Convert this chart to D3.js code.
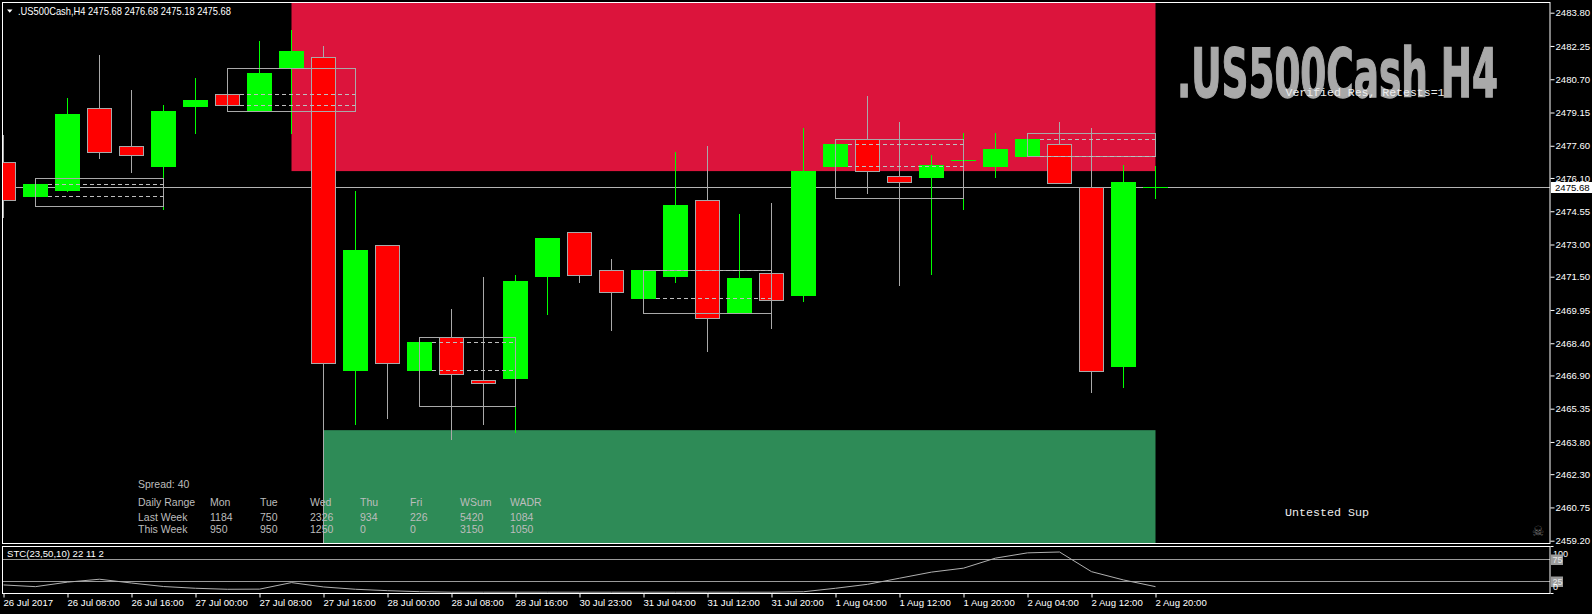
<!DOCTYPE html>
<html><head><meta charset="utf-8">
<script src="https://cdn.jsdelivr.net/npm/d3@7/dist/d3.min.js"></script>
<style>
html,body{margin:0;padding:0;background:#000;overflow:hidden}
svg{display:block}
text{font-family:"Liberation Sans",Arial,sans-serif}
</style></head><body>
<svg id="c" width="1592" height="614"></svg>
<script>
// ---------------- DATA ----------------
const symbolName = ".US500Cash,H4";
const headerQuote = [2475.68, 2476.68, 2475.18, 2475.68];
const barTimes = [
 "26 Jul 00:00","26 Jul 04:00","26 Jul 08:00","26 Jul 12:00","26 Jul 16:00","26 Jul 20:00",
 "27 Jul 00:00","27 Jul 04:00","27 Jul 08:00","27 Jul 12:00","27 Jul 16:00","27 Jul 20:00",
 "28 Jul 00:00","28 Jul 04:00","28 Jul 08:00","28 Jul 12:00","28 Jul 16:00","28 Jul 20:00",
 "30 Jul 23:00","31 Jul 00:00","31 Jul 04:00","31 Jul 08:00","31 Jul 12:00","31 Jul 16:00","31 Jul 20:00",
 "1 Aug 00:00","1 Aug 04:00","1 Aug 08:00","1 Aug 12:00","1 Aug 16:00","1 Aug 20:00",
 "2 Aug 00:00","2 Aug 04:00","2 Aug 08:00","2 Aug 12:00","2 Aug 16:00","2 Aug 20:00"];
const opens  = [2476.83,2475.27,2475.54,2479.35,2477.57,2476.67,2479.47,2480.00,2479.22,2481.22,2481.72,2467.16,
 2472.96,2467.16,2468.67,2466.67,2466.79,2471.54,2473.57,2471.80,2470.52,2471.54,2475.06,2469.79,2471.66,
 2470.65,2476.67,2477.90,2476.18,2476.14,2476.92,2476.67,2477.14,2477.67,2475.66,2467.35,2475.68];
const highs  = [2478.10,2476.08,2479.83,2481.83,2480.20,2479.50,2480.76,2481.21,2482.48,2482.99,2482.25,2475.49,
 2472.96,2468.67,2469.99,2471.48,2471.58,2473.30,2473.57,2472.32,2471.80,2477.31,2477.59,2474.42,2474.93,
 2478.43,2477.90,2479.92,2478.71,2477.17,2478.19,2478.19,2478.18,2478.71,2478.43,2476.70,2476.68];
const lows   = [2474.29,2474.81,2475.50,2477.04,2476.39,2474.67,2478.21,2479.20,2479.22,2478.21,2458.80,2464.65,
 2464.93,2465.46,2463.92,2464.65,2464.28,2469.77,2471.27,2469.01,2469.79,2471.27,2468.04,2469.79,2469.12,
 2470.38,2475.15,2475.41,2471.11,2471.62,2474.65,2476.16,2477.14,2475.88,2466.14,2466.37,2475.18];
const closes = [2475.06,2475.82,2479.08,2477.29,2477.16,2479.22,2479.73,2479.49,2480.99,2482.02,2467.46,2472.74,
 2467.46,2468.46,2466.95,2466.53,2471.30,2473.30,2471.56,2470.80,2471.80,2474.84,2469.56,2471.44,2470.40,
 2476.42,2477.68,2476.41,2475.90,2476.69,2476.92,2477.45,2477.91,2475.88,2467.12,2475.91,2475.68];
const currentPrice = 2475.68;

const priceTicks = [2483.80,2482.25,2480.70,2479.15,2477.60,2476.10,2474.55,2473.00,2471.50,2469.95,
 2468.40,2466.90,2465.35,2463.80,2462.30,2460.75,2459.20];
const tickBars = ["26 Jul 00:00","26 Jul 08:00","26 Jul 16:00","27 Jul 00:00","27 Jul 08:00","27 Jul 16:00",
 "28 Jul 00:00","28 Jul 08:00","28 Jul 16:00","30 Jul 23:00","31 Jul 04:00","31 Jul 12:00","31 Jul 20:00",
 "1 Aug 04:00","1 Aug 12:00","1 Aug 20:00","2 Aug 04:00","2 Aug 12:00","2 Aug 20:00"];
const tickLabels = ["26 Jul 2017","26 Jul 08:00","26 Jul 16:00","27 Jul 00:00","27 Jul 08:00","27 Jul 16:00",
 "28 Jul 00:00","28 Jul 08:00","28 Jul 16:00","30 Jul 23:00","31 Jul 04:00","31 Jul 12:00","31 Jul 20:00",
 "1 Aug 04:00","1 Aug 12:00","1 Aug 20:00","2 Aug 04:00","2 Aug 12:00","2 Aug 20:00"];

// supply / demand zones
const resZoneBars = ["27 Jul 12:00","2 Aug 20:00"];
const resZonePrices = [2476.42, 2486.00];
const supZoneBars = ["27 Jul 16:00","2 Aug 20:00"];
const supZonePrices = [2457.50, 2464.35];
const resZoneLabel = "Verified Res, Retests=1";
const supZoneLabel = "Untested Sup";

// range boxes (start bar -> end bar)
const boxStartBars = ["26 Jul 04:00","27 Jul 04:00","28 Jul 04:00","31 Jul 04:00","1 Aug 04:00","2 Aug 04:00"];
const boxEndBars   = ["26 Jul 20:00","27 Jul 20:00","28 Jul 16:00","31 Jul 20:00","1 Aug 20:00","2 Aug 20:00"];

// STC indicator
const stcLabel = "STC(23,50,10) 22 11 2";
const stcLevels = [75, 25];
const stcValues = [16.6,12.7,23,29.7,21,13,9,6.7,7,22,12,6.7,3.5,1.2,0,0,0,0,0,0,0,0,0,0,0,
 1,9,18,32,46,55,78,90,92,47,28,12.7];

// daily range table
const spreadText = "Spread: 40";
const tableHeader = ["Daily Range","Mon","Tue","Wed","Thu","Fri","WSum","WADR"];
const lastWeekRow = ["Last Week","1184","750","2326","934","226","5420","1084"];
const thisWeekRow = ["This Week","950","950","1250","0","0","3150","1050"];
const titleText = ".US500Cash H4";

// ---------------- DRAW ----------------
const svg = d3.select("#c");
const W = 1592, H = 614;
const L = 3, R = 1550, T = 3, B = 543.5;
const IT = 546.5, IB = 593.5;

svg.append("rect").attr("width", W).attr("height", H).attr("fill", "#000");

const x = d3.scalePoint().domain(barTimes).range([3.5, 1155.5]);
const y = d3.scaleLinear().domain([2459.20, 2483.80]).range([540.7, 12.7]);
const yi = d3.scaleLinear().domain([0, 100]).range([592.2, 548.5]);

const defs = svg.append("defs");
defs.append("clipPath").attr("id", "mainclip").append("rect")
  .attr("x", L).attr("y", T).attr("width", R - L).attr("height", B - T);
defs.append("clipPath").attr("id", "indclip").append("rect")
  .attr("x", L).attr("y", IT).attr("width", R - L).attr("height", IB - IT);

const main = svg.append("g").attr("clip-path", "url(#mainclip)");

// zones
main.append("rect")
  .attr("x", x(resZoneBars[0])).attr("width", x(resZoneBars[1]) - x(resZoneBars[0]))
  .attr("y", y(resZonePrices[1])).attr("height", y(resZonePrices[0]) - y(resZonePrices[1]))
  .attr("fill", "#DC143C");
main.append("rect")
  .attr("x", x(supZoneBars[0])).attr("width", x(supZoneBars[1]) - x(supZoneBars[0]))
  .attr("y", y(supZonePrices[1])).attr("height", y(supZonePrices[0]) - y(supZonePrices[1]))
  .attr("fill", "#2E8B57");

// current price line
const cpY = Math.round(y(currentPrice)) + 0.5;
main.append("line").attr("x1", L).attr("x2", R).attr("y1", cpY).attr("y2", cpY)
  .attr("stroke", "#B4B4B4").attr("stroke-width", 1);

// candles
const bars = barTimes.map((t, i) => ({t, o: opens[i], h: highs[i], l: lows[i], c: closes[i]}));
const cg = main.append("g");
const half = 12.5;
bars.forEach(d => {
  const cx = x(d.t);
  const bull = d.c >= d.o;
  const col = bull ? "#00FF00" : "#A9A9A9";
  cg.append("line").attr("x1", cx).attr("x2", cx)
    .attr("y1", Math.round(y(d.h))).attr("y2", Math.round(y(d.l)) + 1)
    .attr("stroke", col).attr("stroke-width", 1);
  const yt = Math.round(y(Math.max(d.o, d.c)));
  const yb = Math.round(y(Math.min(d.o, d.c)));
  if (bull) {
    cg.append("rect").attr("x", cx - half).attr("y", yt)
      .attr("width", 2 * half).attr("height", Math.max(1, yb - yt + 1)).attr("fill", "#00FF00");
  } else {
    cg.append("rect").attr("x", cx - half + 0.5).attr("y", yt + 0.5)
      .attr("width", 2 * half - 1).attr("height", Math.max(1, yb - yt))
      .attr("fill", "#FF0000").attr("stroke", "#A9A9A9").attr("stroke-width", 1);
  }
});

// range boxes
const bg = main.append("g");
boxStartBars.forEach((s, k) => {
  const i = barTimes.indexOf(s);
  const d = bars[i];
  const x0 = x(s), x1 = x(boxEndBars[k]);
  const yh = Math.round(y(d.h)) + 0.5, yl = Math.round(y(d.l)) + 0.5;
  bg.append("rect").attr("x", x0).attr("y", yh).attr("width", x1 - x0).attr("height", yl - yh)
    .attr("fill", "none").attr("stroke", "#A9A9A9").attr("stroke-width", 1);
  [d.o, d.c].forEach(p => {
    const yy = Math.round(y(p)) + 0.5;
    bg.append("line").attr("x1", x0 + half).attr("x2", x1).attr("y1", yy).attr("y2", yy)
      .attr("stroke", "#BEBEBE").attr("stroke-width", 1).attr("stroke-dasharray", "4,3");
  });
});

// main frame
svg.append("rect").attr("x", 2.5).attr("y", 2.5).attr("width", R - 2.5).attr("height", B - 2.5)
  .attr("fill", "none").attr("stroke", "#fff").attr("stroke-width", 1);

// header
svg.append("path").attr("d", "M7,9.5 L12.5,9.5 L9.75,12.8 Z").attr("fill", "#fff");
svg.append("text").attr("x", 18).attr("y", 15).attr("fill", "#fff")
  .style("font-size", "10.5px")
  .attr("textLength", 213).attr("lengthAdjust", "spacingAndGlyphs")
  .text(symbolName + "  " + headerQuote.map(v => v.toFixed(2)).join(" "));

// big title (scaled horizontally to the reference width)
const title = svg.append("text").attr("x", 0).attr("y", 0).attr("fill", "#A9A9A9")
  .attr("stroke", "#A9A9A9").attr("stroke-width", 1.4)
  .style("font-family", "'DejaVu Sans',sans-serif").style("font-stretch", "condensed")
  .style("font-weight", "bold").style("font-size", "68px")
  .text(titleText);
const tl = title.node().getComputedTextLength();
title.attr("transform", `translate(1177,97) scale(${321 / tl},1)`);

// zone labels
svg.append("text").attr("x", 1285.5).attr("y", 95.5).attr("fill", "#EDEDED")
  .style("font-family", "'Liberation Mono','Courier New',monospace").style("font-size", "11.5px")
  .attr("textLength", 159).attr("lengthAdjust", "spacingAndGlyphs")
  .text(resZoneLabel);
svg.append("text").attr("x", 1285).attr("y", 515.5).attr("fill", "#EDEDED")
  .style("font-family", "'Liberation Mono','Courier New',monospace").style("font-size", "11.5px")
  .attr("textLength", 84).attr("lengthAdjust", "spacingAndGlyphs")
  .text(supZoneLabel);

// skull
svg.append("text").attr("x", 1538).attr("y", 536).attr("text-anchor", "middle")
  .attr("fill", "#6E6E6E").style("font-family", "'DejaVu Sans',sans-serif").style("font-size", "14px")
  .text("\u2620");

// table
const tbl = svg.append("g").style("font-family", "'Open Sans',sans-serif").style("font-size", "10.5px")
  .attr("fill", "#BDBDBD");
const colX = [138, 210, 260, 310, 360, 410, 460, 510];
tbl.append("text").attr("x", 138).attr("y", 488).text(spreadText);
[[tableHeader, 506], [lastWeekRow, 521], [thisWeekRow, 533]].forEach(([row, yy]) => {
  row.forEach((s, j) => tbl.append("text").attr("x", colX[j]).attr("y", yy).text(s));
});

// price axis
const yAxis = d3.axisRight(y).tickValues(priceTicks).tickFormat(d3.format(".2f"))
  .tickSize(4).tickPadding(1);
const ya = svg.append("g").attr("transform", `translate(${R + 0.5},0)`).call(yAxis);
ya.select(".domain").remove();
ya.selectAll("line").attr("stroke", "#fff");
ya.selectAll("text").attr("fill", "#fff").style("font-size", "9.6px")
  .style("font-family", "'Liberation Sans',Arial,sans-serif");

// current price label
svg.append("rect").attr("x", 1551).attr("y", cpY - 5.5).attr("width", 41).attr("height", 11).attr("fill", "#fff");
svg.append("text").attr("x", 1555).attr("y", cpY + 3.5).attr("fill", "#000").style("font-size", "9.6px")
  .text(currentPrice.toFixed(2));

// ---- indicator panel ----
const ind = svg.append("g").attr("clip-path", "url(#indclip)");
stcLevels.forEach(v => {
  const yy = Math.round(yi(v)) + 0.5;
  ind.append("line").attr("x1", L).attr("x2", R).attr("y1", yy).attr("y2", yy)
    .attr("stroke", "#9A9A9A").attr("stroke-width", 1);
});
ind.append("path")
  .datum(stcValues.map((v, i) => [x(barTimes[i]), yi(v)]))
  .attr("d", d3.line())
  .attr("fill", "none").attr("stroke", "#B0B0B0").attr("stroke-width", 1);
svg.append("text").attr("x", 7).attr("y", 557).attr("fill", "#fff").style("font-size", "9.6px").text(stcLabel);

svg.append("rect").attr("x", 2.5).attr("y", IT).attr("width", R - 2.5).attr("height", IB - IT)
  .attr("fill", "none").attr("stroke", "#fff").attr("stroke-width", 1);

// indicator scale labels
const indAxis = svg.append("g").style("font-size", "9px");
indAxis.append("text").attr("x", 1553).attr("y", 556.5).attr("fill", "#fff").text("100");
[[75, 554.5], [25, 576.5]].forEach(([v, yy]) => {
  indAxis.append("rect").attr("x", 1551).attr("y", yy).attr("width", 12).attr("height", 10.5).attr("fill", "#9B9B9B");
  indAxis.append("text").attr("x", 1552.5).attr("y", yy + 8.5).attr("fill", "#E8E8E8").text(v);
});
indAxis.append("text").attr("x", 1553).attr("y", 590).attr("fill", "#fff").text("0");
[IT, IB].forEach(yy => svg.append("line").attr("x1", R + 0.5).attr("x2", R + 3.5)
  .attr("y1", yy).attr("y2", yy).attr("stroke", "#fff"));

// time axis
const xAxis = d3.axisBottom(x).tickValues(tickBars).tickFormat((d, i) => tickLabels[i])
  .tickSize(4).tickPadding(2);
const xa = svg.append("g").attr("transform", `translate(0,${IB})`).call(xAxis);
xa.select(".domain").remove();
xa.selectAll("line").attr("stroke", "#fff");
xa.selectAll("text").attr("fill", "#fff").attr("text-anchor", "start").attr("dx", "-0.5")
  .style("font-size", "9.6px").style("font-family", "'Liberation Sans',Arial,sans-serif");
</script>
</body></html>
